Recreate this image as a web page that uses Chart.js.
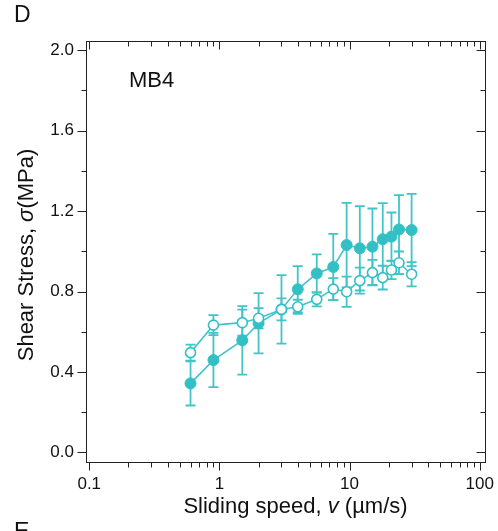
<!DOCTYPE html>
<html><head><meta charset="utf-8">
<script src="https://cdn.jsdelivr.net/npm/chart.js@4/dist/chart.umd.min.js"></script>
<style>html,body{margin:0;padding:0;background:#fff;}#wrap{position:relative;width:498px;height:531px;}</style>
</head><body><div id="wrap"><canvas id="c" width="498" height="531"></canvas></div>
<script>
// ---- data ----
const speeds = [0.6, 0.9, 1.5, 2, 3, 4, 5.6, 7.5, 9.5, 12, 15, 18, 21, 24, 30];
const stressFilled = [0.343, 0.459, 0.557, 0.642, 0.711, 0.811, 0.890, 0.922, 1.031, 1.015, 1.023, 1.060, 1.073, 1.109, 1.106];
const errFilled = [0.11, 0.135, 0.17, 0.15, 0.17, 0.115, 0.095, 0.165, 0.21, 0.21, 0.19, 0.18, 0.12, 0.17, 0.18];
const stressOpen = [0.496, 0.633, 0.645, 0.667, 0.711, 0.724, 0.761, 0.812, 0.799, 0.854, 0.894, 0.869, 0.907, 0.943, 0.886];
const errOpen = [0.04, 0.05, 0.065, 0.05, 0.055, 0.035, 0.035, 0.055, 0.075, 0.065, 0.063, 0.059, 0.045, 0.056, 0.06];
const xTicks = [0.1, 1, 10, 100];
const xTickLabels = ['0.1', '1', '10', '100'];
const xMinorTicks = [0.2, 0.3, 0.4, 0.5, 0.6, 0.7, 0.8, 0.9, 2, 3, 4, 5, 6, 7, 8, 9, 20, 30, 40, 50, 60, 70, 80, 90];
const yTicks = [0, 0.4, 0.8, 1.2, 1.6, 2.0];
const yTickLabels = ['0.0', '0.4', '0.8', '1.2', '1.6', '2.0'];
const yMinorTicks = [0.2, 0.6, 1.0, 1.4, 1.8];
const panelLabel = 'D';
const nextPanelLabel = 'E';
const sampleLabel = 'MB4';
const yTitleParts = [['Shear Stress, ', false], ['\u03c3', true], ['(MPa)', false]];
const xTitleParts = [['Sliding speed, ', false], ['v', true], [' (\u00b5m/s)', false]];

// ---- style ----
const TEAL = '#32c0c4';
const TEAL_LINE = '#42c4c8';
const FONT = '"Liberation Sans", Arial, Helvetica, sans-serif';

const errorBars = {
  id: 'errorBars',
  beforeDatasetsDraw(chart) {
    const ctx = chart.ctx, xs = chart.scales.x, ys = chart.scales.y;
    const sets = [[stressOpen, errOpen], [stressFilled, errFilled]];
    ctx.save();
    ctx.strokeStyle = TEAL_LINE;
    ctx.lineWidth = 1.8;
    sets.forEach(([vals, errs]) => {
      vals.forEach((v, i) => {
        const px = xs.getPixelForValue(speeds[i]);
        const top = ys.getPixelForValue(v + errs[i]);
        const bot = ys.getPixelForValue(v - errs[i]);
        ctx.beginPath();
        ctx.moveTo(px, top); ctx.lineTo(px, bot);
        ctx.moveTo(px - 5, top); ctx.lineTo(px + 5, top);
        ctx.moveTo(px - 5, bot); ctx.lineTo(px + 5, bot);
        ctx.stroke();
      });
    });
    ctx.restore();
  }
};

function drawParts(ctx, parts, size) {
  let total = 0;
  const widths = parts.map(([t, it]) => {
    ctx.font = (it ? 'italic ' : '') + size + 'px ' + FONT;
    const w = ctx.measureText(t).width; total += w; return w;
  });
  let x = -total / 2;
  parts.forEach(([t, it], i) => {
    ctx.font = (it ? 'italic ' : '') + size + 'px ' + FONT;
    ctx.fillText(t, x, 0);
    x += widths[i];
  });
}

const frame = {
  id: 'frame',
  afterDraw(chart) {
    const ctx = chart.ctx, a = chart.chartArea, xs = chart.scales.x, ys = chart.scales.y;
    ctx.save();
    ctx.strokeStyle = '#222';
    ctx.lineWidth = 1;
    const L = Math.round(a.left) + 0.5, R = Math.round(a.right) + 0.5;
    const T = Math.round(a.top) + 0.5, B = Math.round(a.bottom) + 0.5;
    ctx.strokeRect(L, T, R - L, B - T);
    ctx.beginPath();
    const tickX = (v, len) => {
      const p = Math.round(xs.getPixelForValue(v)) + 0.5;
      ctx.moveTo(p, B); ctx.lineTo(p, B + len);
      ctx.moveTo(p, T); ctx.lineTo(p, T + len);
    };
    const tickY = (v, len) => {
      const p = Math.round(ys.getPixelForValue(v)) + 0.5;
      ctx.moveTo(L, p); ctx.lineTo(L - len, p);
      ctx.moveTo(R, p); ctx.lineTo(R - len, p);
    };
    xTicks.forEach(v => tickX(v, 8));
    xMinorTicks.forEach(v => tickX(v, 5));
    yTicks.forEach(v => tickY(v, 9));
    yMinorTicks.forEach(v => tickY(v, 5));
    ctx.stroke();

    ctx.fillStyle = '#111';
    ctx.textBaseline = 'alphabetic';
    ctx.textAlign = 'left';
    ctx.font = '23px ' + FONT;
    ctx.fillText(panelLabel, 14, 22);
    ctx.fillText(nextPanelLabel, 14, 539);
    ctx.font = '22px ' + FONT;
    ctx.fillText(sampleLabel, 129, 87);

    ctx.save();
    ctx.translate(295.5, 513);
    drawParts(ctx, xTitleParts, 22);
    ctx.restore();

    ctx.save();
    ctx.translate(33, 255);
    ctx.rotate(-Math.PI / 2);
    drawParts(ctx, yTitleParts, 22);
    ctx.restore();
    ctx.restore();
  }
};

new Chart(document.getElementById('c'), {
  type: 'line',
  data: {
    datasets: [
      {
        label: 'open',
        data: speeds.map((x, i) => ({ x, y: stressOpen[i] })),
        borderColor: TEAL_LINE, borderWidth: 1.6,
        pointBackgroundColor: '#ffffff', pointBorderColor: TEAL,
        pointBorderWidth: 1.6, pointRadius: 5, tension: 0, fill: false
      },
      {
        label: 'filled',
        data: speeds.map((x, i) => ({ x, y: stressFilled[i] })),
        borderColor: TEAL_LINE, borderWidth: 1.6,
        pointBackgroundColor: TEAL, pointBorderColor: TEAL,
        pointBorderWidth: 1, pointRadius: 5.5, tension: 0, fill: false
      }
    ]
  },
  options: {
    responsive: false,
    animation: false,
    events: [],
    layout: { padding: { left: 0, right: 12, top: 41, bottom: 0 } },
    plugins: { legend: { display: false }, tooltip: { enabled: false } },
    scales: {
      x: {
        type: 'logarithmic', position: 'bottom',
        min: 0.0944, max: 109.8,
        grid: { display: false, drawTicks: true, tickLength: 8 },
        border: { display: false },
        afterBuildTicks: s => { s.ticks = xTicks.map(v => ({ value: v })); },
        afterFit: s => { s.height = 69; },
        ticks: {
          autoSkip: false, maxRotation: 0, minRotation: 0, padding: 4,
          color: '#111', font: { size: 17, family: FONT },
          callback: (v, i) => xTickLabels[i]
        }
      },
      y: {
        type: 'linear', position: 'left',
        min: -0.048, max: 2.046,
        grid: { display: false, drawTicks: true, tickLength: 8 },
        border: { display: false },
        afterBuildTicks: s => { s.ticks = yTicks.map(v => ({ value: v })); },
        afterFit: s => { s.width = 86; },
        ticks: {
          autoSkip: false, padding: 4,
          color: '#111', font: { size: 17, family: FONT },
          callback: (v, i) => yTickLabels[i]
        }
      }
    }
  },
  plugins: [errorBars, frame]
});
</script>
</body></html>
